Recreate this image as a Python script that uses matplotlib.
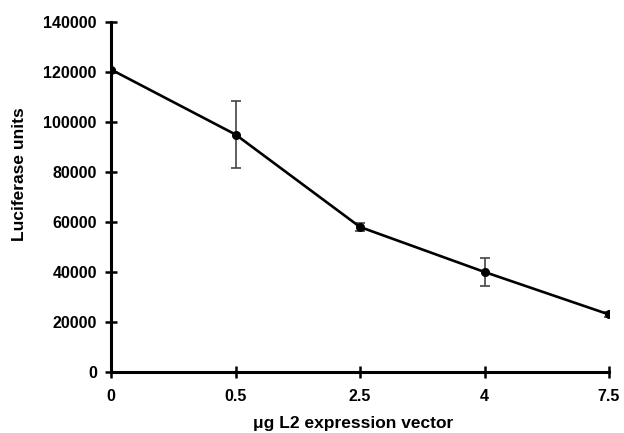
import matplotlib
matplotlib.use("Agg")
import matplotlib.pyplot as plt

# data
doses = ["0", "0.5", "2.5", "4", "7.5"]
luciferase = [121000, 95000, 58000, 40000, 23000]
errors = [0, 13500, 1500, 5500, 1000]
y_ticks = [0, 20000, 40000, 60000, 80000, 100000, 120000, 140000]

plt.rcParams["font.family"] = ["Liberation Sans", "DejaVu Sans"]
plt.rcParams["font.weight"] = "bold"

fig = plt.figure(figsize=(6.24, 4.33), dpi=100)
ax = fig.add_axes([0.178, 0.141, 0.798, 0.808])

x = list(range(len(doses)))
ax.errorbar(x, luciferase, yerr=errors, fmt="none", ecolor="#444444",
            elinewidth=1.2, capsize=3.5, capthick=1.2, zorder=2)
ax.plot(x, luciferase, color="black", linewidth=1.9, marker="o",
        markersize=5.5, zorder=3)

ax.set_xlim(0, len(doses) - 1)
ax.set_ylim(0, 140000)
ax.set_xticks(x)
ax.set_xticklabels(doses)
ax.set_yticks(y_ticks)
ax.set_yticklabels([str(v) for v in y_ticks])

for side in ["top", "right"]:
    ax.spines[side].set_visible(False)
for side in ["left", "bottom"]:
    ax.spines[side].set_linewidth(2.2)
ax.spines["left"].set_zorder(1)

ax.tick_params(axis="both", direction="inout", length=8.5, width=1.8,
               labelsize=11.5)
ax.tick_params(axis="x", pad=8)
ax.tick_params(axis="y", pad=6)
for lbl in ax.get_xticklabels() + ax.get_yticklabels():
    lbl.set_fontweight("bold")

ax.set_ylabel("Luciferase units", fontsize=12.5, fontweight="bold")
ax.yaxis.set_label_coords(-0.168, 0.565)
ax.set_xlabel("\u03bcg L2 expression vector", fontsize=12.5, fontweight="bold")
ax.xaxis.set_label_coords(0.487, -0.125)

fig.savefig("out.png", dpi=100)
